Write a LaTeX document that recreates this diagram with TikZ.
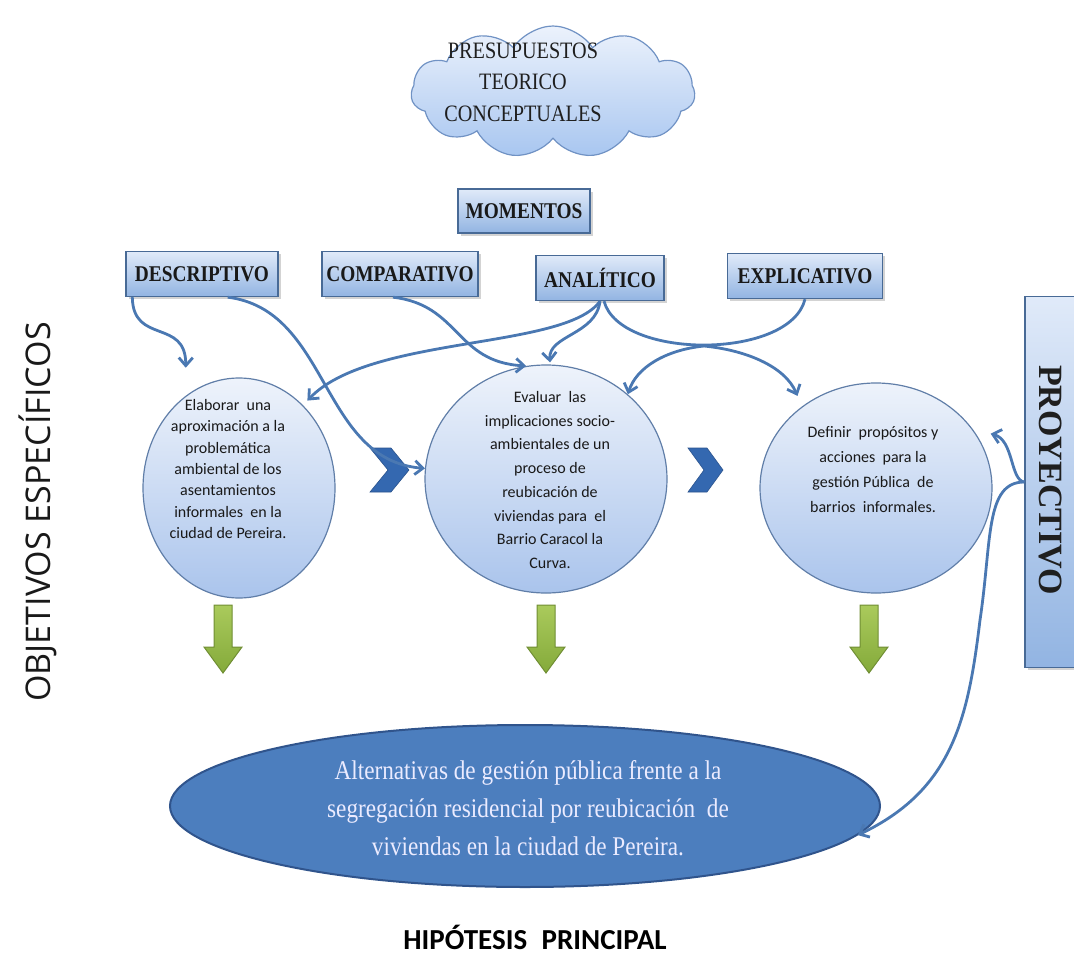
\documentclass[tikz,border=0pt]{standalone}
\usepackage{fontspec}
\setmainfont{Liberation Serif}
\newfontfamily\boxfont[FakeStretch=0.86]{Liberation Serif}
\newfontfamily\calib{Carlito}
\newfontfamily\osans{Open Sans}
\usetikzlibrary{arrows.meta,shapes.geometric,shapes.symbols,shadows}
\definecolor{lineblue}{RGB}{74,120,178}
\definecolor{boxtop}{RGB}{224,234,249}
\definecolor{boxbot}{RGB}{146,180,226}
\definecolor{boxedge}{RGB}{72,106,150}
\definecolor{circtop}{RGB}{238,243,251}
\definecolor{circbot}{RGB}{170,196,236}
\definecolor{circedge}{RGB}{96,126,168}
\definecolor{ellfill}{RGB}{76,126,190}
\definecolor{elledge}{RGB}{48,84,140}
\definecolor{chevcol}{RGB}{52,104,176}
\definecolor{greentop}{RGB}{170,202,92}
\definecolor{greenbot}{RGB}{132,170,58}
\definecolor{greenedge}{RGB}{112,142,52}
\definecolor{cloudtop}{RGB}{236,242,252}
\definecolor{cloudbot}{RGB}{168,198,240}
\definecolor{cloudedge}{RGB}{112,146,196}
\begin{document}
\begin{tikzpicture}[x=1pt,y=-1pt,
  momentbox/.style={draw=boxedge,line width=1.4pt,top color=boxtop,bottom color=boxbot,
     font=\boxfont\bfseries\fontsize{22.5}{25}\selectfont, inner sep=0pt, text=black!90,
     drop shadow={shadow xshift=2.5pt,shadow yshift=-2.5pt,opacity=0.35}},
  objcircle/.style={ellipse,draw=circedge,line width=1.2pt,top color=circtop,bottom color=circbot,inner sep=0pt},
  circtext/.style={align=center,text=black!90,inner sep=0pt},
  conn/.style={draw=lineblue,line width=2.8pt,-{Straight Barb[length=8pt,width=14pt]}},
  connplain/.style={draw=lineblue,line width=2.8pt},
  greenarrow/.style={draw=greenedge,line width=1pt,top color=greentop,bottom color=greenbot},
  chev/.style={fill=chevcol,draw=chevcol!80!black,line width=0.6pt}
]
\path[use as bounding box] (0,0) rectangle (1074,972);

% cloud
\node[cloud, cloud puffs=11, cloud puff arc=115, aspect=2.2, draw=cloudedge, line width=1.2pt,
      top color=cloudtop, bottom color=cloudbot, minimum width=284pt, minimum height=132pt] (cloud) at (553,92) {};
\node[font=\boxfont\fontsize{23.5}{31.5}\selectfont, align=center, text=black!88] (cloudtxt) at (523,82) {PRESUPUESTOS\\TEORICO\\CONCEPTUALES};

% boxes
\node[momentbox, minimum width=132pt, minimum height=44pt] (mom) at (524,211) {MOMENTOS};
\node[momentbox, minimum width=152pt, minimum height=45pt] (desc) at (202,274) {DESCRIPTIVO};
\node[momentbox, minimum width=156pt, minimum height=45pt] (comp) at (400,274) {COMPARATIVO};
\node[momentbox, minimum width=128pt, minimum height=45pt] (anal) at (600,278) {ANAL\'ITICO};
\node[momentbox, minimum width=155pt, minimum height=45pt] (expl) at (805,276) {EXPLICATIVO};

% proyectivo
\node[draw=boxedge,line width=1.4pt,top color=boxtop,bottom color=boxbot,
      minimum width=60pt,minimum height=371pt,inner sep=0pt,
      drop shadow={shadow xshift=2.5pt,shadow yshift=-2.5pt,opacity=0.35}] (proj) at (1055,482) {};
\node[rotate=-90, font=\bfseries\fontsize{34}{36}\selectfont, text=black!88] (projtxt) at (1050,480) {PROYECTIVO};

% circles
\node[objcircle, minimum width=192pt, minimum height=220pt] (c1) at (239,488) {};
\node[objcircle, minimum width=242pt, minimum height=228pt] (c2) at (546,479) {};
\node[objcircle, minimum width=232pt, minimum height=210pt] (c3) at (876,488) {};

\node[circtext, font=\calib\fontsize{16}{21.3}\selectfont] (t1) at (228,469)
  {Elaborar \ una\\aproximación a la\\problemática\\ambiental de los\\asentamientos\\informales \ en la\\ciudad de Pereira.};
\node[circtext, font=\calib\fontsize{16}{23.7}\selectfont] (t2) at (550,480)
  {Evaluar \ las\\implicaciones socio-\\ambientales de un\\proceso de\\reubicación de\\viviendas para \ el\\Barrio Caracol la\\Curva.};
\node[circtext, font=\calib\fontsize{16}{25}\selectfont] (t3) at (873,470)
  {Definir \ propósitos y\\acciones \ para la\\gestión Pública \ de\\barrios \ informales.};

% chevrons
\path[chev] (370,448) -- (391,448) -- (409,470) -- (391,492) -- (370,492) -- (388,470) -- cycle;
\path[chev] (688,448) -- (707,448) -- (723,470) -- (707,492) -- (688,492) -- (704,470) -- cycle;

% green arrows
\foreach \cx in {223,546,869}
  \path[greenarrow] (\cx-9,605) -- (\cx+9,605) -- (\cx+9,647) -- (\cx+19,647) -- (\cx,673)
      -- (\cx-19,647) -- (\cx-9,647) -- cycle;

% hypothesis ellipse
\node[ellipse, draw=elledge, line width=2pt, fill=ellfill, minimum width=710pt, minimum height=162pt] (hyp) at (525,806) {};
\node[font=\boxfont\fontsize{27}{38}\selectfont, align=center, text=white!92!blue] (hyptxt) at (528,808)
  {Alternativas de gestión pública frente a la\\segregación residencial por reubicación \ de\\viviendas en la ciudad de Pereira.};

% side labels
\node[rotate=90, font=\osans\fontsize{34}{36}\selectfont, text=black!90] (objlabel) at (38,512) {OBJETIVOS ESPECÍFICOS};
\node[font=\calib\bfseries\fontsize{29}{32}\selectfont] (hiplabel) at (535,937) {HIPÓTESIS\hspace{0.5em}PRINCIPAL};

% connectors
\draw[conn] ([xshift=7pt]desc.south west) .. controls (133,345) and (186,318) .. ([yshift=28pt]c1.120);
\draw[conn] ([xshift=-51pt]desc.south east) .. controls (330,310) and (320,460) .. (c2.175);
\draw[conn] ([xshift=-7pt]comp.south) .. controls (460,305) and (455,362) .. (c2.100);
\draw[conn] (anal.south) .. controls (565,350) and (370,335) .. ([shift={(4pt,5pt)}]c1.52);
\draw[conn] (anal.south) .. controls (596,335) and (548,335) .. ([yshift=2pt]c2.88);
\coordinate (ubot) at (704,346);
\draw[connplain] ([xshift=4pt]anal.south) .. controls (620,360) and (790,360) .. (expl.south);
\draw[conn] (ubot) .. controls (665,350) and (636,368) .. (c2.46);
\draw[conn] (ubot) .. controls (745,350) and (785,366) .. ([shift={(-8pt,8pt)}]c3.130);
\draw[conn] (proj.west) .. controls (1010,480) and (1014,440) .. ([shift={(11pt,6pt)}]c3.25);
\draw[conn] (proj.west) .. controls (985,482) and (992,540) .. (980,620)
   .. controls (968,720) and (952,790) .. (hyp.-5);
\end{tikzpicture}
\end{document}
